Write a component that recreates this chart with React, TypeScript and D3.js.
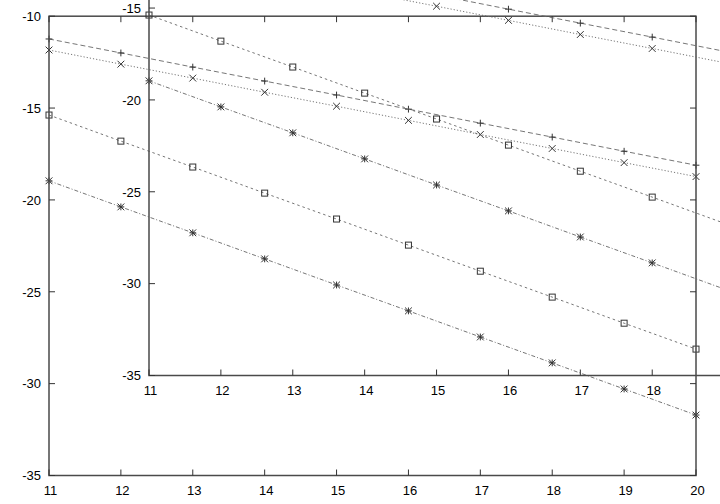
import React, { useEffect } from "react";
import * as d3 from "d3";

const xs = [11, 12, 13, 14, 15, 16, 17, 18, 19, 20];
const plusSeries = [-11.24, -12.0, -12.77, -13.53, -14.29, -15.06, -15.82, -16.58, -17.35, -18.11];
const crossSeries = [-11.84, -12.61, -13.37, -14.14, -14.9, -15.67, -16.44, -17.2, -17.97, -18.73];
const squareSeries = [-15.38, -16.8, -18.21, -19.63, -21.04, -22.46, -23.88, -25.29, -26.71, -28.12];
const starSeries = [-18.96, -20.38, -21.79, -23.21, -24.63, -26.04, -27.46, -28.87, -30.29, -31.71];
const xTicks = [11, 12, 13, 14, 15, 16, 17, 18, 19, 20];
const yTicks = [-35, -30, -25, -20, -15, -10];

const W = 720;
const H = 504;
const FONT = "'Liberation Sans', Arial, Helvetica, sans-serif";

const x = d3.scaleLinear().domain([11, 20]).range([49, 696]);
const y = d3.scaleLinear().domain([-35, -10]).range([475.5, 16.2]);

type Kind = "plus" | "cross" | "square" | "star";
const seriesDefs: { values: number[]; kind: Kind; dash: string }[] = [
  { values: plusSeries, kind: "plus", dash: "5,3" },
  { values: crossSeries, kind: "cross", dash: "1.2,2" },
  { values: squareSeries, kind: "square", dash: "2.5,3" },
  { values: starSeries, kind: "star", dash: "4,2,1,2" },
];

function Marker({ cx, cy, kind }: { cx: number; cy: number; kind: Kind }) {
  const s = 3.4;
  const st = { stroke: "#333", strokeWidth: 1, fill: "none" } as const;
  if (kind === "plus")
    return <path d={`M${cx - s},${cy}H${cx + s}M${cx},${cy - s}V${cy + s}`} {...st} />;
  if (kind === "cross")
    return <path d={`M${cx - s},${cy - s}L${cx + s},${cy + s}M${cx - s},${cy + s}L${cx + s},${cy - s}`} {...st} />;
  if (kind === "square") return <rect x={cx - 3} y={cy - 3} width={6} height={6} {...st} />;
  return (
    <path
      d={`M${cx - s},${cy}H${cx + s}M${cx},${cy - s}V${cy + s}M${cx - s},${cy - s}L${cx + s},${cy + s}M${cx - s},${cy + s}L${cx + s},${cy - s}`}
      {...st}
    />
  );
}

function Panel({ dx, dy }: { dx: number; dy: number }) {
  const [x0, x1] = x.range();
  const [yb, yt] = y.range();
  const line = d3
    .line<number>()
    .x((_, i) => x(xs[i]))
    .y((v) => y(v));
  const tick = 6;
  const visX = (px: number) => px + dx + 8 < W;
  const visY = (py: number) => py + dy - 6 > 0;
  return (
    <g transform={`translate(${dx},${dy})`}>
      {seriesDefs.map((s, si) => (
        <g key={si}>
          <path d={line(s.values) || ""} fill="none" stroke="#666" strokeWidth={0.9} strokeDasharray={s.dash} />
          {s.values.map((v, i) => (
            <Marker key={i} cx={x(xs[i])} cy={y(v)} kind={s.kind} />
          ))}
        </g>
      ))}
      <rect x={x0} y={yt} width={x1 - x0} height={yb - yt} fill="none" stroke="#4a4a4a" strokeWidth={1.5} />
      {xTicks.map((t) => (
        <g key={"x" + t}>
          <path d={`M${x(t)},${yb}V${yb - tick}M${x(t)},${yt}V${yt + tick}`} stroke="#333" strokeWidth={1} />
          {visX(x(t)) && (
            <text x={x(t) + 1.5} y={yb + 19.5} textAnchor="middle" fontFamily={FONT} fontSize={13} fill="#000">
              {t}
            </text>
          )}
        </g>
      ))}
      {yTicks.map((t) => (
        <g key={"y" + t}>
          <path d={`M${x0},${y(t)}H${x0 + tick}M${x1},${y(t)}H${x1 - tick}`} stroke="#333" strokeWidth={1} />
          {visY(y(t)) && (
            <text x={x0 - 8} y={y(t) + 4.8} textAnchor="end" fontFamily={FONT} fontSize={13} fill="#000">
              {t}
            </text>
          )}
        </g>
      ))}
    </g>
  );
}

export default function App() {
  useEffect(() => {
    document.body.style.margin = "0";
  }, []);
  return (
    <svg
      width={W}
      height={H}
      viewBox={`0 0 ${W} ${H}`}
      style={{ position: "absolute", left: 0, top: 0, display: "block", background: "#fff" }}
    >
      <rect width={W} height={H} fill="#fff" />
      <Panel dx={0} dy={0} />
      <Panel dx={100} dy={-100} />
    </svg>
  );
}
